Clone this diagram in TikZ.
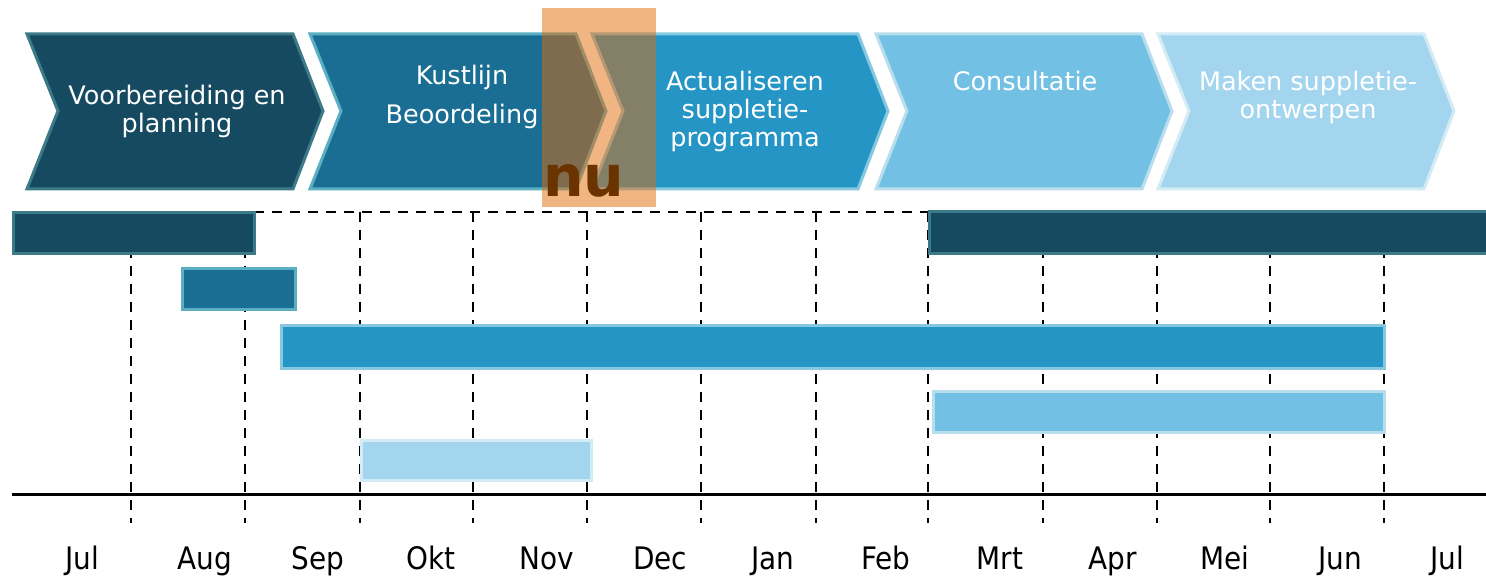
\documentclass[tikz,border=0pt]{standalone}
\usepackage{fontspec}
\setmainfont{DejaVu Sans}
\newfontfamily\condfont{DejaVu Sans Condensed}
\definecolor{c1}{HTML}{154A60}
\definecolor{b1}{HTML}{3D7A87}
\definecolor{c2}{HTML}{1B6E93}
\definecolor{b2}{HTML}{5BAFC2}
\definecolor{c3}{HTML}{2595C6}
\definecolor{b3}{HTML}{86C8E0}
\definecolor{c4}{HTML}{72C1E5}
\definecolor{b4}{HTML}{B8DEED}
\definecolor{c5}{HTML}{A3D6EE}
\definecolor{b5}{HTML}{D3EBF4}
\definecolor{orng}{HTML}{E46C0A}
\definecolor{nuc}{HTML}{6B3300}
\begin{document}
\begin{tikzpicture}[x=1pt,y=-1pt,
  chev/.style={line width=3pt, line join=miter},
  lbl/.style={text=white, align=center, inner sep=0pt, font=\fontsize{25.5}{28}\selectfont},
  month/.style={anchor=base, inner sep=0pt, font=\condfont\fontsize{31}{31}\selectfont},
  grid/.style={line width=2.6pt, dash pattern=on 10pt off 8pt},
  bar/.style={line width=3pt}]
\clip (0,0) rectangle (1486,577);
\fill[white] (0,0) rectangle (1486,577);
% grid lines
\draw[grid] (254,212) -- (928,212);
\foreach \gx in {131,245,360,473,587,701,816,928,1043,1157,1270,1384}
  \draw[grid] (\gx,212) -- (\gx,523);
\draw[line width=3pt] (12,494) -- (1486,494);
% bars
\draw[bar, fill=c1, draw=b1] (13,213) rectangle (254,254);
\draw[bar, fill=c1, draw=b1] (929,212) rectangle (1495,254);
\draw[bar, fill=c2, draw=b2] (182,269) rectangle (295,310);
\draw[bar, fill=c3, draw=b3] (281,326) rectangle (1384,368);
\draw[bar, fill=c4, draw=b4] (933,391) rectangle (1384,432);
\draw[bar, fill=c5, draw=b5] (361,440) rectangle (591,480);
% chevrons
\foreach \x/\f/\b in {27/c1/b1, 310/c2/b2, 592/c3/b3, 876/c4/b4, 1158/c5/b5}
  \filldraw[chev, fill=\f, draw=\b] (\x,34) -- ({\x+266},34) -- ({\x+296},111) -- ({\x+266},189) -- (\x,189) -- ({\x+31},111) -- cycle;
\node[lbl] (t1) at (177,111) {Voorbereiding en\\planning};
\node[lbl] (t2) at (462,97) {Kustlijn\\[11pt]Beoordeling};
\node[lbl] (t3) at (745,111) {Actualiseren\\suppletie-\\programma};
\node[lbl] (t4) at (1025,81) {Consultatie};
\node[lbl] (t5) at (1308,97) {Maken suppletie-\\ontwerpen};
% now marker
\fill[orng, opacity=0.5] (542,8) rectangle (656,207);
\node[anchor=base west, inner sep=0pt, text=nuc, font=\bfseries\fontsize{57}{57}\selectfont] (nu) at (543,197) {nu};
% months
\foreach \mx/\mn [count=\i] in {82/Jul,205/Aug,318/Sep,431/Okt,547/Nov,660/Dec,773/Jan,886/Feb,1000/Mrt,1113/Apr,1225/Mei,1340/Jun,1447/Jul}
  \node[month] (m\i) at (\mx,569) {\mn};
\end{tikzpicture}
\end{document}
